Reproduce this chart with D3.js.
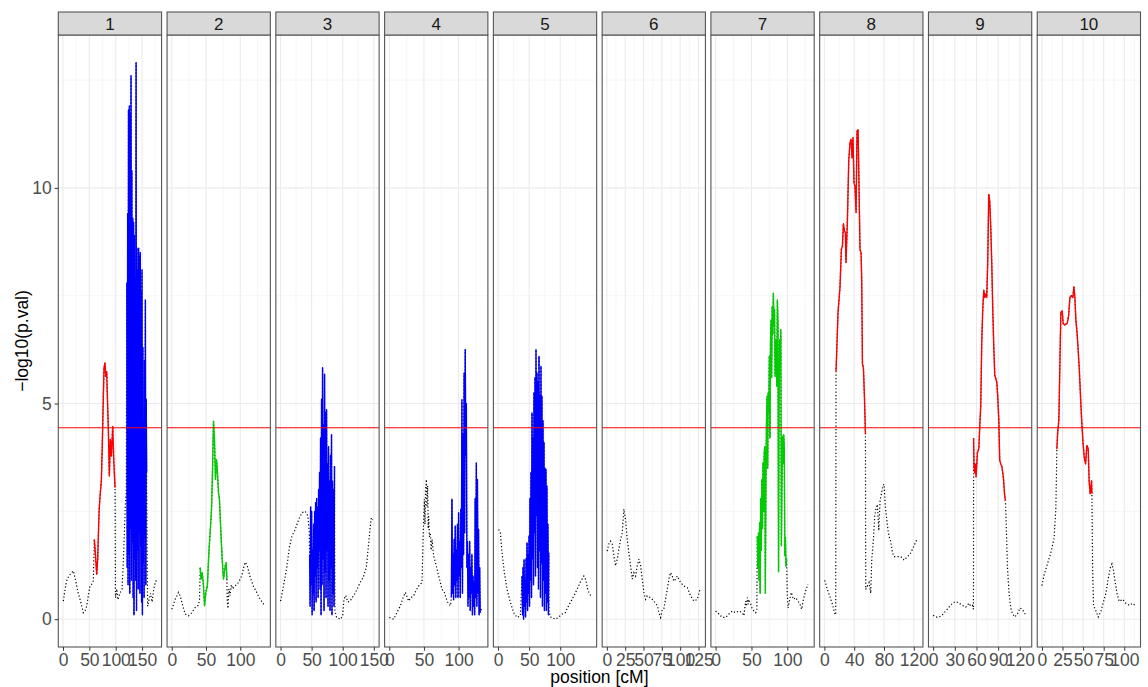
<!DOCTYPE html>
<html lang="en">
<head>
<meta charset="utf-8">
<title>-log10(p.val) by chromosome</title>
<script src="https://d3js.org/d3.v7.min.js"></script>
<style>
  body { margin: 0; background: white; }
  svg text { font-family: "Liberation Sans", Arial, sans-serif; }
</style>
</head>
<body>
<div id="chart"></div>
<script>
const chromNames = ["1", "2", "3", "4", "5", "6", "7", "8", "9", "10"];
const chromLength = [178, 137, 151, 135.5, 151, 128, 131, 126, 130, 114];
const xTickValues = [
  [0, 50, 100, 150], [0, 50, 100], [0, 50, 100, 150], [0, 50, 100], [0, 50, 100],
  [0, 25, 50, 75, 100, 125], [0, 50, 100], [0, 40, 80, 120], [0, 30, 60, 90, 120], [0, 25, 50, 75, 100]
];
const yTickValues = [0, 5, 10];
const yMinorValues = [2.5, 7.5, 12.5];
const threshold = 4.44;

// [position cM, -log10 p] pairs; dotted = rest of the chromosome
const chr1Dotted = [[0.6,0.42],[4,0.7],[7,0.89],[11,1.0],[16.5,1.08],[19.6,1.12],[23,0.95],[26,0.77],[29,0.6],[32.3,0.46],[35.5,0.3],[38.6,0.15],[42,0.2],[45,0.3],[48,0.55],[51.2,0.77],[54,0.8],[57.5,0.89],
  [99.5,0.5],[102,0.7],[104,0.45],[108,0.6],[112,0.7],[115,1.5],[118,2.6],[120,3.0],
  [159.5,1.5],[160.5,0.3],[163,0.45],[166,0.6],[169,0.4],[172,0.7],[175,0.85],[177,0.9]];
const chr1Red = [[59.4,1.85],[61.3,1.54],[63.9,1.04],[65.8,1.39],[68.3,2.47],[70.2,2.85],[72.7,3.2],[74.6,4.09],[76.5,5.17],[77.8,5.83],[79.7,5.94],[81,5.63],[82.9,5.74],[84.1,5.17],[86,4.4],[87.9,3.32],[89.8,4.17],[91.7,3.78],[94.3,4.47],[96.2,3.7],[98.7,3.05]];
const chr1Blue = [[121,7.8],[121.8,1.2],[122.6,9.4],[123.4,0.8],[124.2,11.8],[125,1.5],[125.8,11.9],[126.6,0.6],[127.4,11.7],[128.2,2.1],[129,12.6],[129.8,0.9],[130.6,10.4],[131.4,1.8],[132.2,9.3],[133,0.5],[133.8,9.2],[134.6,0.1],[135.4,8.9],[136.2,1.4],[137,7.9],[137.8,0.9],[138.6,12.9],[139.4,0.2],[140.2,8.6],[141,1.6],[141.8,8.1],[142.6,0.7],[143.4,8.6],[144.2,2.0],[145,8.4],[145.8,0.6],[146.6,8.5],[147.4,1.7],[148.2,7.6],[149,0.4],[149.8,8.1],[150.6,0.1],[151.4,6.3],[152.2,1.3],[153,4.6],[153.8,0.5],[154.6,6.0],[155.4,1.9],[156.2,7.4],[157,0.8],[157.8,5.1],[158.6,3.4]];

const chr2Dotted = [[0.1,0.23],[5,0.46],[9.8,0.62],[12.3,0.54],[16,0.31],[19.6,0.12],[24.4,0.08],[29.3,0.15],[34.2,0.27],[38,0.31],[40.5,0.42],
  [81,0.4],[82,0.25],[83.5,0.7],[85,0.55],[87,0.8],[89,0.7],[92,0.77],[95,0.8],[98,0.87],[102,1.0],[105,1.2],[107,1.32],[110,1.25],[114,1.0],[119,0.77],[124,0.62],[129,0.46],[134,0.35],[136,0.3]];
const chr2Green = [[41.5,1.2],[42.9,0.93],[44.4,1.08],[46.3,0.77],[47.8,0.31],[49.7,0.62],[52,0.77],[54.1,1.54],[56,2.0],[58,2.55],[59.4,3.4],[60.9,4.59],[62.3,4.17],[63.8,3.24],[65.3,3.7],[66.7,3.4],[68.2,2.93],[69.6,2.78],[71.7,2.0],[73.6,1.39],[75.5,0.93],[78,1.23],[79.4,1.31],[80.4,0.93]];

const chr3Dotted = [[0,0.42],[4.8,0.77],[10.3,1.23],[14.5,1.69],[18.4,1.93],[23.7,2.08],[29,2.31],[34.5,2.47],[39.8,2.5],[44.1,2.39],[46.2,2.0],
  [87.5,0.2],[90,0.05],[93,0.02],[97,0.0],[100,0.1],[102,0.46],[105,0.55],[108,0.4],[112,0.42],[115,0.5],[118,0.55],[123,0.69],[128,0.85],[133,0.97],[138,1.2],[140,1.5],[142,1.8],[144,2.1],[146,2.35],[148,2.3]];
const chr3Blue = [[46.8,1.5],[47.6,0.3],[48.4,2.6],[49.2,0.8],[50,2.5],[50.8,0.1],[51.6,1.6],[52.4,0.6],[53.2,2.2],[54,0.2],[54.8,2.5],[55.6,1.0],[56.4,2.7],[57.2,0.4],[58,2.8],[58.8,1.2],[59.6,2.6],[60.4,0.5],[61.2,3.0],[62,1.6],[62.8,3.4],[63.6,0.7],[64.4,4.2],[65.2,0.1],[66,5.1],[66.8,0.8],[67.6,5.83],[68.4,1.4],[69.2,4.5],[70,0.2],[70.8,5.68],[71.6,1.1],[72.4,4.8],[73.2,0.5],[74,4.86],[74.8,1.6],[75.6,3.6],[76.4,0.3],[77.2,4.0],[78,0.9],[78.8,3.2],[79.6,0.2],[80.4,3.8],[81.2,1.2],[82,4.28],[82.8,0.1],[83.6,3.2],[84.4,0.6],[85.2,3.0],[86,0.3],[86.8,3.55]];

const chr4Dotted = [[0,0.04],[6.2,0.0],[11,0.15],[15.9,0.31],[20,0.5],[23.1,0.62],[27.9,0.42],[31,0.5],[35.1,0.54],[38,0.65],[42.3,0.77],[47.2,0.85],[48.7,1.85],[50.6,2.78],[51.5,2.2],[52.3,3.0],[53.5,3.24],[54.2,2.6],[55.3,3.09],[56.2,2.1],[56.8,2.39],[58,1.9],[59.2,2.0],[60.4,1.6],[61.7,1.85],[64,1.47],[67.9,1.23],[71.3,1.0],[76.1,0.69],[79.5,0.62],[83.4,0.42],[86,0.35],[88.2,0.31],
  [132,0.2],[134,0.25]];
const chr4Blue = [[89.6,0.5],[90.4,2.78],[91.2,0.6],[92,1.5],[92.8,0.45],[93.6,1.85],[94.4,0.8],[95.2,2.16],[96,0.5],[96.8,1.6],[97.6,0.9],[98.4,2.2],[99.2,0.5],[100,2.47],[100.8,1.0],[101.6,1.8],[102.4,0.5],[103.2,2.55],[104,1.2],[104.8,5.09],[105.6,0.6],[106.4,4.3],[107.2,1.5],[108,5.71],[108.8,2.0],[109.6,6.25],[110.4,3.8],[111.2,5.0],[112,1.2],[112.8,1.8],[113.6,0.3],[114.4,1.5],[115.2,0.5],[116,1.8],[116.8,0.2],[117.6,1.2],[118.4,0.6],[119.2,1.5],[120,0.1],[120.8,1.0],[121.6,0.3],[122.4,0.85],[123.2,0.1],[124,2.8],[124.8,0.5],[125.6,3.62],[126.4,0.3],[127.2,3.24],[128,0.6],[128.8,2.08],[129.6,0.1],[130.4,1.2],[131.2,0.15]];

const chr5Dotted = [[1,2.08],[3.7,2.0],[6.4,1.54],[10.1,1.08],[14.5,0.69],[19.8,0.39],[25.1,0.15],[30.6,0.04],[35.9,0.08],
  [82,0.2],[84,0.05],[87,0.04],[92,0.0],[97,0.04],[103,0.12],[108,0.15],[113,0.3],[119,0.46],[124,0.6],[127,0.69],[132,0.85],[138,1.0],[141,0.92],[144,0.7],[146,0.62],[149,0.54]];
const chr5Blue = [[38.6,1.0],[39.4,0.1],[40.2,1.2],[41,0.0],[41.8,1.38],[42.6,0.3],[43.4,0.9],[44.2,0.05],[45,1.4],[45.8,0.4],[46.6,1.77],[47.4,0.2],[48.2,1.5],[49,0.6],[49.8,1.93],[50.6,0.3],[51.4,2.8],[52.2,0.9],[53,3.4],[53.8,0.5],[54.6,4.78],[55.4,1.4],[56.2,4.2],[57,0.8],[57.8,5.25],[58.6,2.0],[59.4,5.6],[60.2,1.0],[61,6.25],[61.8,2.4],[62.6,5.71],[63.4,1.2],[64.2,5.5],[65,0.7],[65.8,6.09],[66.6,1.6],[67.4,5.2],[68.2,0.5],[69,5.86],[69.8,1.3],[70.6,5.17],[71.4,0.3],[72.2,4.6],[73,0.9],[73.8,4.1],[74.6,0.2],[75.4,3.5],[76.2,0.6],[77,3.47],[77.8,0.2],[78.6,3.09],[79.4,0.4],[80.2,2.2],[81,0.1],[81.5,1.54]];

const chr6Dotted = [[0.5,1.58],[2.7,1.74],[5,1.81],[7.4,1.74],[9.6,1.47],[11.9,1.24],[14.2,1.39],[16.4,1.62],[18.7,1.85],[21,2.0],[23.2,2.55],[25.5,2.31],[27.8,1.85],[30,1.54],[32.3,1.24],[34.7,0.93],[36.8,1.08],[39.2,1.0],[41.5,1.24],[43.7,1.39],[46,1.24],[48.3,0.93],[50.5,0.62],[52.8,0.46],[55.1,0.54],[59.6,0.5],[64.1,0.42],[68.8,0.31],[71,0.15],[73.3,0.04],[75.6,0.23],[77.8,0.25],[80,0.46],[82.4,0.69],[84.6,0.93],[86.9,1.08],[89.2,1.0],[91.4,0.88],[93.7,0.93],[96,1.0],[100.5,0.85],[105,0.77],[109.7,0.73],[114.2,0.54],[118.7,0.42],[123.3,0.46],[126.9,0.69]];

const chr7Dotted = [[0,0.19],[4.6,0.12],[9.3,0.04],[14,0.04],[18.6,0.12],[23.3,0.19],[27.9,0.15],[32.5,0.19],[37.2,0.15],[39.5,0.08],[41.9,0.42],[43,0.3],[44.3,0.5],[45.4,0.35],[46.5,0.42],[48.9,0.35],[51.3,0.23],[53.5,0.19],[55.9,0.15],[57.5,0.2],
  [100,0.6],[101,0.26],[103.4,0.46],[105.7,0.62],[108.5,0.46],[111.7,0.5],[114.9,0.42],[117.7,0.35],[120.1,0.23],[122.5,0.46],[125.7,0.66],[128.9,0.81]];
const chr7Green = [[58.2,1.93],[59,1.2],[59.8,2.0],[60.6,0.9],[61.4,2.24],[62.2,0.6],[63,2.8],[63.8,1.6],[64.6,3.24],[65.4,2.1],[66.2,3.63],[67,2.5],[67.8,3.85],[68.6,4.0],[69.4,0.6],[70.2,3.1],[71,4.6],[71.8,5.17],[72.6,3.5],[73.4,5.25],[74.2,4.8],[75,6.1],[75.8,4.2],[76.6,6.4],[77.4,6.94],[78.2,5.6],[79,7.25],[79.8,6.6],[80.6,7.56],[81.4,6.8],[82.2,7.18],[83,5.63],[83.8,6.2],[84.6,6.48],[85.4,5.4],[86.2,7.4],[87,6.9],[87.8,1.1],[88.6,5.0],[89.4,6.48],[90.2,6.0],[91,6.71],[91.8,1.7],[92.6,3.2],[93.4,4.24],[94.2,3.6],[95,4.28],[95.8,4.0],[96.6,1.47],[97.4,1.9],[98.2,1.23],[99,1.4]];

const chr8Dotted = [[0.4,0.9],[4,0.69],[7.5,0.52],[10.7,0.35],[13.8,0.14],[15.2,0.1],
  [55.5,0.69],[57.8,0.77],[60,0.85],[62.2,0.6],[63.6,1.38],[65.9,1.88],[67.6,2.4],[69.4,2.57],[71.2,2.66],[73,2.05],[74.7,2.74],[76.6,2.91],[78.4,3.09],[80.1,3.13],[82,2.57],[83.7,2.31],[85.5,2.05],[87.4,1.88],[89.1,1.8],[91.4,1.54],[93.5,1.45],[98.1,1.45],[102.6,1.45],[107,1.37],[111.6,1.45],[116,1.54],[120.4,1.71],[124,1.84]];
const chr8Red = [[15.6,5.74],[16.5,6.17],[18.3,7.11],[21,7.71],[22.8,8.57],[24.2,8.65],[25.5,9.17],[26.9,9.0],[28.2,8.96],[29,8.27],[30.9,9.25],[32.7,10.63],[34.4,11.05],[35.8,11.13],[37.1,10.7],[38.4,11.17],[39.8,10.11],[41.1,10.03],[42.5,9.43],[43.8,11.31],[45.2,11.35],[46.5,10.03],[47.8,8.57],[49.2,8.5],[50.1,7.88],[51.1,5.91],[52.4,5.83],[53.8,5.14],[55.1,4.29]];

const chr9Dotted = [[0,0.09],[3.6,0.05],[8.2,0.05],[12.8,0.1],[17.5,0.19],[22,0.28],[26.7,0.37],[31.3,0.41],[35.9,0.37],[40.6,0.32],[45.2,0.28],[49.7,0.37],[52,0.3],[54.4,0.32],[55.8,0.23],
  [101.5,2.05],[102.9,1.19],[105.1,0.6],[107.5,0.26],[109.8,0.13],[113,0.05],[116.8,0.13],[120.4,0.26],[123.7,0.22],[126.9,0.13],[129.6,0.09]];
const chr9Red = [[56,4.2],[56.6,3.52],[57.5,3.4],[58.5,3.6],[59.4,3.3],[61.3,3.86],[63.2,3.95],[64.5,4.46],[65.9,4.94],[67.3,6.43],[68.7,7.2],[70.1,7.63],[71.5,7.46],[72.9,7.54],[74.2,7.46],[75.6,8.31],[77,9.85],[78.4,9.68],[79.8,9.08],[81.2,8.23],[82.5,7.2],[83.9,6.35],[85.3,5.66],[86.7,5.58],[88.1,5.49],[89.5,5.14],[90.9,4.63],[92.2,3.68],[93.6,3.6],[95.4,3.52],[97.4,3.26],[98.8,2.91],[100.1,2.74]];

const chr10Dotted = [[0,0.78],[2.7,1.03],[6.8,1.29],[10.8,1.54],[14.8,1.88],[16.9,2.57],[17.6,3.3],
  [61.5,1.19],[62.7,0.32],[65.6,0.19],[68.4,0.05],[71.7,0.19],[74.9,0.41],[77.7,0.6],[80.5,0.94],[83,1.19],[85,1.28],[87.1,1.11],[89,0.85],[91.1,0.6],[93.9,0.41],[98,0.46],[102,0.37],[106.1,0.32],[110.2,0.37],[113,0.32]];
const chr10Red = [[18.1,3.94],[19,4.29],[20.6,4.63],[21.8,5.91],[23,7.11],[24.6,7.15],[25.8,6.86],[27.5,6.82],[29.1,6.84],[30.7,6.86],[32.4,7.03],[34,7.46],[35.5,7.5],[37.6,7.46],[38.8,7.71],[40,7.46],[41.2,6.94],[42.5,6.68],[43.7,6.34],[45.3,5.83],[46.5,5.32],[48.2,4.63],[49.8,4.12],[51.3,3.77],[53,3.6],[54.6,4.03],[56.2,3.95],[57.4,3.17],[58.6,2.91],[60.3,3.21],[60.7,2.91]];

const dottedByChrom = [chr1Dotted, chr2Dotted, chr3Dotted, chr4Dotted, chr5Dotted, chr6Dotted, chr7Dotted, chr8Dotted, chr9Dotted, chr10Dotted];
const coloredByChrom = [
  [["red", chr1Red], ["blue", chr1Blue]],
  [["green", chr2Green]],
  [["blue", chr3Blue]],
  [["blue", chr4Blue]],
  [["blue", chr5Blue]],
  [],
  [["green", chr7Green]],
  [["red", chr8Red]],
  [["red", chr9Red]],
  [["red", chr10Red]]
];
const lineColor = { red: "#FF0000", green: "#00CD00", blue: "#0000FF" };

// layout
const W = 1148, H = 687;
const plotLeft = 58.3, plotRight = 1140.5;
const panelTop = 35, panelBottom = 647, stripTop = 12;
const gap = 5.5;
const panelW = (plotRight - plotLeft - gap * 9) / 10;
const fontFamily = '"Liberation Sans", Arial, sans-serif';

const svg = d3.select("#chart").append("svg")
  .attr("width", W)
  .attr("height", H);

const allValues = [];
dottedByChrom.forEach((d, i) => {
  d.forEach(p => allValues.push(p[1]));
  coloredByChrom[i].forEach(s => s[1].forEach(p => allValues.push(p[1])));
});
const yMax = d3.max(allValues);
const y = d3.scaleLinear()
  .domain([-0.05 * yMax, 1.05 * yMax])
  .range([panelBottom, panelTop]);

const line = (x) => d3.line().x(d => x(d[0])).y(d => y(d[1]));

chromNames.forEach((name, i) => {
  const left = plotLeft + i * (panelW + gap);
  const len = chromLength[i];
  const x = d3.scaleLinear()
    .domain([-0.05 * len, 1.05 * len])
    .range([left, left + panelW]);
  const g = svg.append("g");

  g.append("rect")
    .attr("x", left).attr("y", panelTop)
    .attr("width", panelW).attr("height", panelBottom - panelTop)
    .attr("fill", "white");

  // minor grid
  const ticks = xTickValues[i];
  const step = ticks[1] - ticks[0];
  const xMinor = [ticks[0] - step / 2].concat(ticks.map(t => t + step / 2))
    .filter(v => v > x.domain()[0] && v < x.domain()[1]);
  g.selectAll(".xminor").data(xMinor).enter().append("line")
    .attr("x1", d => x(d)).attr("x2", d => x(d))
    .attr("y1", panelTop).attr("y2", panelBottom)
    .attr("stroke", "#F2F2F2").attr("stroke-width", 0.7);
  g.selectAll(".yminor").data(yMinorValues).enter().append("line")
    .attr("x1", left).attr("x2", left + panelW)
    .attr("y1", d => y(d)).attr("y2", d => y(d))
    .attr("stroke", "#F2F2F2").attr("stroke-width", 0.7);
  // major grid
  g.selectAll(".xmajor").data(ticks).enter().append("line")
    .attr("x1", d => x(d)).attr("x2", d => x(d))
    .attr("y1", panelTop).attr("y2", panelBottom)
    .attr("stroke", "#EBEBEB").attr("stroke-width", 1.1);
  g.selectAll(".ymajor").data(yTickValues).enter().append("line")
    .attr("x1", left).attr("x2", left + panelW)
    .attr("y1", d => y(d)).attr("y2", d => y(d))
    .attr("stroke", "#EBEBEB").attr("stroke-width", 1.1);

  // dotted line through every position
  let full = dottedByChrom[i].slice();
  coloredByChrom[i].forEach(s => { full = full.concat(s[1]); });
  full.sort((a, b) => a[0] - b[0]);
  g.append("path")
    .attr("d", line(x)(full))
    .attr("fill", "none")
    .attr("stroke", "#000")
    .attr("stroke-width", 1.2)
    .attr("stroke-dasharray", "1.2,2.2");

  coloredByChrom[i].forEach(s => {
    g.append("path")
      .attr("d", line(x)(s[1]))
      .attr("fill", "none")
      .attr("stroke", lineColor[s[0]])
      .attr("stroke-width", 1.4)
      .attr("stroke-linejoin", "round");
  });

  g.append("line")
    .attr("x1", left).attr("x2", left + panelW)
    .attr("y1", y(threshold)).attr("y2", y(threshold))
    .attr("stroke", "#FF0000").attr("stroke-width", 1.1);

  g.append("rect")
    .attr("x", left).attr("y", panelTop)
    .attr("width", panelW).attr("height", panelBottom - panelTop)
    .attr("fill", "none").attr("stroke", "#555").attr("stroke-width", 1.1);

  // strip
  g.append("rect")
    .attr("x", left).attr("y", stripTop)
    .attr("width", panelW).attr("height", panelTop - stripTop)
    .attr("fill", "#D9D9D9").attr("stroke", "#555").attr("stroke-width", 1.1);
  g.append("text")
    .attr("x", left + panelW / 2).attr("y", (stripTop + panelTop) / 2)
    .attr("dy", "0.36em")
    .attr("text-anchor", "middle")
    .attr("font-size", 17)
    .attr("fill", "#1A1A1A")
    .text(name);

  // x axis
  const ax = g.append("g")
    .attr("transform", `translate(0,${panelBottom})`)
    .call(d3.axisBottom(x).tickValues(ticks).tickSize(3.7).tickPadding(2.9).tickFormat(d3.format("d")));
  ax.select(".domain").remove();
  ax.selectAll(".tick line").attr("stroke", "#333");
  ax.selectAll(".tick text").attr("fill", "#4D4D4D").attr("font-size", 17.5).attr("font-family", fontFamily);
});

// y axis on first panel
const ay = svg.append("g")
  .attr("transform", `translate(${plotLeft},0)`)
  .call(d3.axisLeft(y).tickValues(yTickValues).tickSize(3.7).tickPadding(2.9));
ay.select(".domain").remove();
ay.selectAll(".tick line").attr("stroke", "#333");
ay.selectAll(".tick text").attr("fill", "#4D4D4D").attr("font-size", 17.5).attr("font-family", fontFamily);

// axis titles
svg.append("text")
  .attr("x", (plotLeft + plotRight) / 2)
  .attr("y", 683)
  .attr("text-anchor", "middle")
  .attr("font-size", 17.5)
  .attr("fill", "#000")
  .text("position [cM]");

svg.append("text")
  .attr("transform", `translate(28,${(panelTop + panelBottom) / 2}) rotate(-90)`)
  .attr("text-anchor", "middle")
  .attr("font-size", 17.5)
  .attr("fill", "#000")
  .text("−log10(p.val)");
</script>
</body>
</html>
